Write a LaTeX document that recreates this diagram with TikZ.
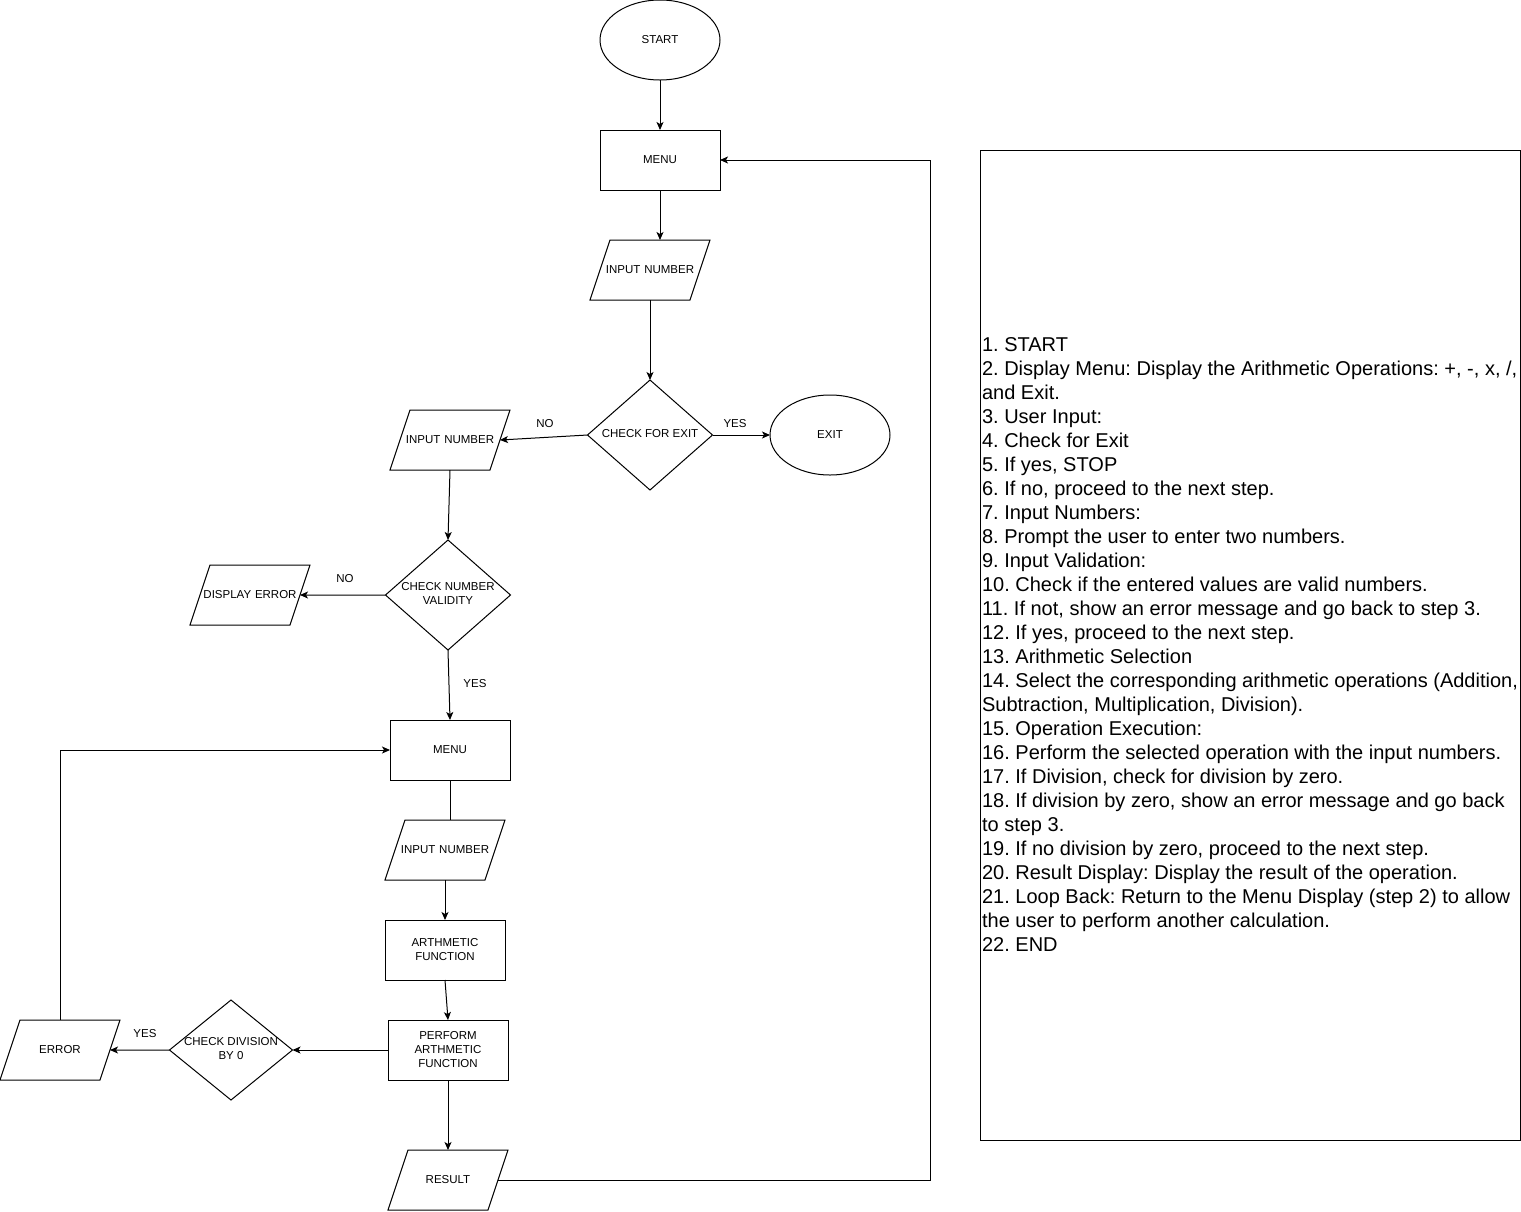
\documentclass[tikz,border=0pt]{standalone}
\usepackage{fontspec}
\setmainfont{Liberation Sans}
\usetikzlibrary{shapes.geometric,arrows.meta}
% small label font and zero-width centred texts for shapes with fixed sizes
\newcommand\flabel{\fontsize{11.5}{14}\selectfont}
\newcommand\ctrstack[1]{\makebox[0pt]{\begin{tabular}{@{}c@{}}#1\end{tabular}}}
\newcommand\ctrline[1]{\makebox[0pt]{#1}}
\frenchspacing

\begin{document}
\begin{tikzpicture}[x=1pt,y=-1pt,
  base/.style={draw, line width=1pt, inner sep=0pt, outer sep=0pt, font=\flabel, align=center},
  term/.style={base, ellipse, minimum width=120, minimum height=80},
  proc/.style={base, rectangle, minimum width=120, minimum height=60},
  % parallelogram 120 x 60 with a 20 slant: 80 body + two 20 extensions
  io/.style={base, trapezium, trapezium left angle=71.565, trapezium right angle=108.435,
             text width=80pt, text height=8.5pt, text depth=2.5pt,
             inner xsep=0pt, inner ysep=24.5pt},
  decision/.style={base, diamond},
  arr/.style={line width=1pt, -{Stealth[length=8pt,width=7pt,inset=2pt]}},
  link/.style={line width=1pt},
  tag/.style={font=\flabel, inner sep=0pt}
]
\useasboundingbox (0,0) rectangle (1521,1211);

% main flow
\node[term] (start) at (660,40) {START};
\node[proc] (menuA) at (660,160) {MENU};
\node[io] (inA) at (650,270) {\ctrline{INPUT NUMBER}};
\node[decision, minimum width=125, minimum height=110] (exitq) at (650,435) {\ctrstack{CHECK FOR EXIT}};
\node[term] (exit) at (830,435) {EXIT};
\node[io] (inB) at (450,440) {\ctrline{INPUT NUMBER}};
\node[decision, minimum width=125, minimum height=110] (valid) at (448,595) {\ctrstack{CHECK NUMBER\\VALIDITY}};
\node[io] (derr) at (250,595) {\ctrline{DISPLAY ERROR}};
\node[proc] (menuB) at (450,750) {MENU};
\node[io] (inC) at (445,850) {\ctrline{INPUT NUMBER}};
\node[proc] (arth) at (445,950) {ARTHMETIC\\FUNCTION};
\node[proc] (perf) at (448,1050) {PERFORM\\ARTHMETIC\\FUNCTION};
\node[decision, minimum width=123, minimum height=100] (divq) at (231,1050) {\ctrstack{CHECK DIVISION\\BY 0}};
\node[io] (err) at (60,1050) {\ctrline{ERROR}};
\node[io] (res) at (448,1180) {\ctrline{RESULT}};
\coordinate (loop) at (930,0);

% branch labels
\node[tag] (yesA) at (735,424) {YES};
\node[tag] (noA) at (545,424) {NO};
\node[tag] (noB) at (345,579) {NO};
\node[tag] (yesB) at (475,684) {YES};
\node[tag] (yesC) at (145,1034) {YES};

% connectors
\draw[arr] (start) -- (menuA);
\draw[arr] (menuA.south) -- (menuA.south |- inA.north);
\draw[arr] (inA.south) -- (exitq.north);
\draw[arr] (exitq.east) -- (exit.west);
\draw[arr] (exitq.west) -- (inB.east);
\draw[arr] (inB.south) -- (valid.north);
\draw[arr] (valid.west) -- (derr.east);
\draw[arr] (valid.south) -- (menuB.north);
\draw[link] (menuB.south) -- (menuB.south |- inC.north);
\draw[arr] (inC.south) -- (arth.north);
\draw[arr] (arth.south) -- (perf.north);
\draw[arr] (perf.west) -- (divq.east);
\draw[arr] (divq.west) -- (err.east);
\draw[arr] (err.north -| err.center) |- (menuB.west);
\draw[arr] (perf.south) -- (res.north);
\draw[arr] (res.east) -- (res.east -| loop) |- (menuA.east);

% algorithm steps
\node[draw, line width=1pt, minimum width=540, minimum height=990, inner sep=2pt,
      align=left, font=\fontsize{20}{24}\selectfont] (steps) at (1250,645)
{1. START\\
2. Display Menu: Display the Arithmetic Operations: +, -, x, /,\\
and Exit.\\
3. User Input:\\
4. Check for Exit\\
5. If yes, STOP\\
6. If no, proceed to the next step.\\
7. Input Numbers:\\
8. Prompt the user to enter two numbers.\\
9. Input Validation:\\
10. Check if the entered values are valid numbers.\\
11. If not, show an error message and go back to step 3.\\
12. If yes, proceed to the next step.\\
13. Arithmetic Selection\\
14. Select the corresponding arithmetic operations (Addition,\\
Subtraction, Multiplication, Division).\\
15. Operation Execution:\\
16. Perform the selected operation with the input numbers.\\
17. If Division, check for division by zero.\\
18. If division by zero, show an error message and go back\\
to step 3.\\
19. If no division by zero, proceed to the next step.\\
20. Result Display: Display the result of the operation.\\
21. Loop Back: Return to the Menu Display (step 2) to allow\\
the user to perform another calculation.\\
22. END};
\end{tikzpicture}
\end{document}
